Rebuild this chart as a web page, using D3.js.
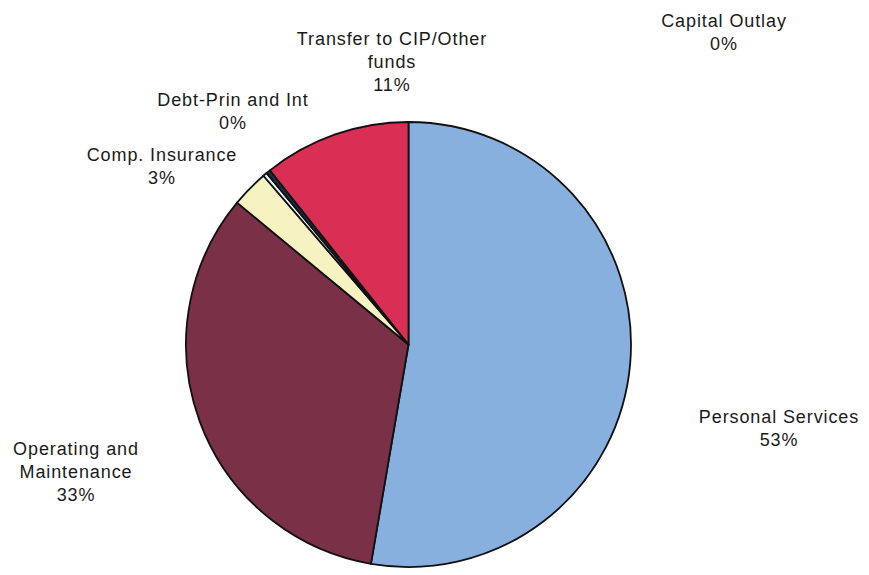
<!DOCTYPE html>
<html>
<head>
<meta charset="utf-8">
<script src="https://cdn.jsdelivr.net/npm/d3@7"></script>
<style>
  html, body { margin: 0; padding: 0; background: #ffffff; }
  svg { display: block; }
  text { font-family: "Liberation Sans", Arial, sans-serif; fill: #1a1a1a; }
</style>
</head>
<body>
<svg id="chart" width="869" height="575"></svg>
<script>
// Expenditure categories, clockwise from 12 o'clock
const categories = [
  "Personal Services",
  "Operating and Maintenance",
  "Comp. Insurance",
  "Debt-Prin and Int",
  "Capital Outlay",
  "Transfer to CIP/Other funds"
];
// Share of total expenditures (%)
const shares = [52.7, 33.3, 2.7, 0.3, 0.3, 10.7];
const sliceColors = ["#88b0df", "#7a3046", "#f7f2c2", "#eef7fb", "#1e2c4c", "#da2f55"];
// Label text lines (name part) for each category
const labelLines = [
  ["Personal Services"],
  ["Operating and", "Maintenance"],
  ["Comp. Insurance"],
  ["Debt-Prin and Int"],
  ["Capital Outlay"],
  ["Transfer to CIP/Other", "funds"]
];
// Label anchor points (centre x, first baseline y)
const labelPos = [
  [779, 423],
  [76, 455],
  [162, 161],
  [233, 106],
  [724, 27],
  [392, 45]
];

const svg = d3.select("#chart");
const cx = 408.5, cy = 344.5, radius = 222.5;
const total = d3.sum(shares);

const data = categories.map((c, i) => ({ name: c, value: shares[i], color: sliceColors[i], lines: labelLines[i], pos: labelPos[i] }));

const pie = d3.pie().value(d => d.value).sort(null).startAngle(0).endAngle(2 * Math.PI);
const arc = d3.arc().innerRadius(0).outerRadius(radius);

const g = svg.append("g").attr("transform", `translate(${cx},${cy})`);
g.selectAll("path")
  .data(pie(data))
  .join("path")
  .attr("d", arc)
  .attr("fill", d => d.data.color)
  .attr("stroke", "#111")
  .attr("stroke-width", 1.8)
  .attr("stroke-linejoin", "round");

// Category labels with rounded percentages
const lineH = 23;
const labels = svg.append("g").selectAll("text")
  .data(data)
  .join("text")
  .attr("text-anchor", "middle")
  .attr("font-size", 18)
  .attr("letter-spacing", 0.9)
  .attr("x", d => d.pos[0])
  .attr("y", d => d.pos[1]);

labels.each(function(d) {
  const t = d3.select(this);
  const lines = d.lines.concat([Math.round(d.value / total * 100) + "%"]);
  lines.forEach((ln, i) => {
    t.append("tspan")
      .attr("x", d.pos[0])
      .attr("y", d.pos[1] + i * lineH)
      .text(ln);
  });
});
</script>
</body>
</html>
